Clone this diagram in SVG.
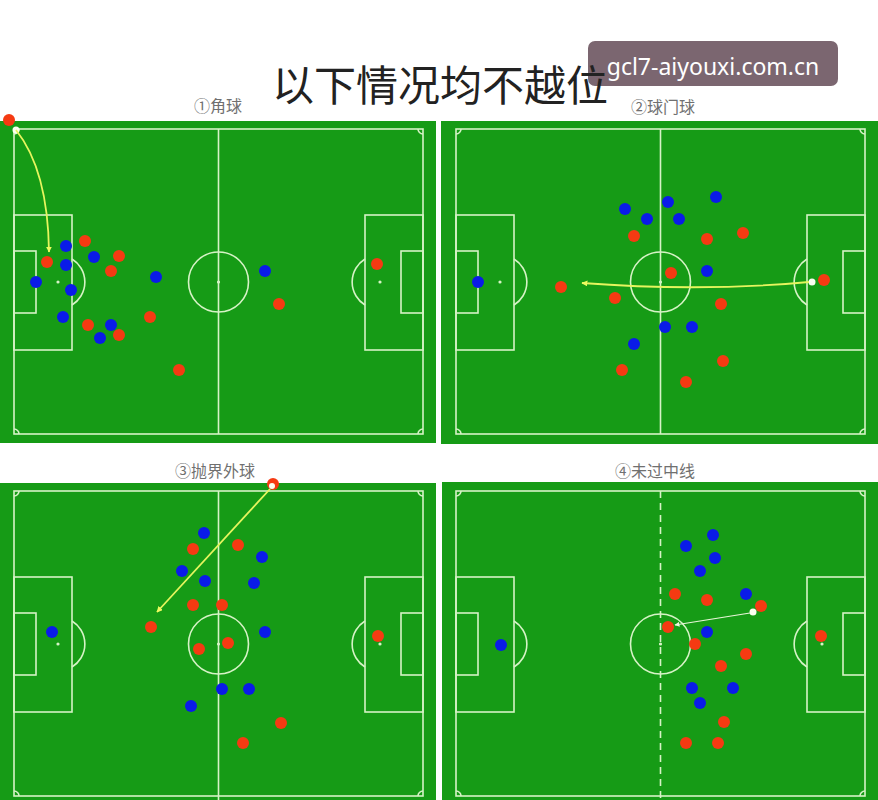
<svg xmlns="http://www.w3.org/2000/svg" xmlns:xlink="http://www.w3.org/1999/xlink" width="878" height="800" viewBox="0 0 878 800">
<style>
.field{fill:#169b16}
.ln{fill:none;stroke:#d6f3c6;stroke-width:1.6}
.r{fill:#f53a12}
.b{fill:#0a1be8}
.ball{fill:#fafff0}
.lbl{font-family:"Liberation Serif","Noto Sans CJK SC",serif;font-size:16px;fill:#707070;text-anchor:middle}
.arr{fill:none;stroke:#e6f55e;stroke-width:1.8}
.arr4{fill:none;stroke:#e8f5d8;stroke-width:1.2}
</style>
<defs>
<marker id="ah" viewBox="0 0 10 10" refX="9" refY="5" markerWidth="6" markerHeight="6" orient="auto" markerUnits="userSpaceOnUse">
<path d="M0,0 L10,5 L0,10 z" fill="#eefa60"/>
</marker>
<marker id="ah4" viewBox="0 0 10 10" refX="9" refY="5" markerWidth="5" markerHeight="5" orient="auto" markerUnits="userSpaceOnUse">
<path d="M0,0 L10,5 L0,10 z" fill="#f0f8e0"/>
</marker>
<g id="pitch" class="ln">
<rect x="0" y="0" width="409" height="305"/>
<circle cx="204.5" cy="153" r="30"/>
<circle cx="204.5" cy="153" r="0.8" fill="#d6f3c6"/>
<rect x="0" y="86" width="58" height="135"/>
<rect x="0" y="122" width="22" height="62"/>
<circle cx="44" cy="153" r="0.8" fill="#d6f3c6"/>
<path d="M58,130 A27,27 0 0 1 58,176"/>
<rect x="351" y="86" width="58" height="135"/>
<rect x="387" y="122" width="22" height="62"/>
<circle cx="366" cy="153" r="0.8" fill="#d6f3c6"/>
<path d="M351,130 A27,27 0 0 0 351,176"/>
<path d="M0,5 A5,5 0 0 0 5,0"/>
<path d="M404,0 A5,5 0 0 0 409,5"/>
<path d="M0,300 A5,5 0 0 1 5,305"/>
<path d="M404,305 A5,5 0 0 1 409,300"/>
</g>
</defs>
<rect width="878" height="800" fill="#ffffff"/>

<g id="watermark">
<rect x="588" y="41" width="250" height="45" rx="7" fill="#7b6670"/>
<text x="713" y="75" text-anchor="middle" font-family="'Noto Sans','Open Sans',sans-serif" font-size="23" fill="#ffffff">gcl7-aiyouxi.com.cn</text>
</g>
<text id="title" x="272" y="101" font-family="'Noto Sans CJK SC','Noto Sans CJK JP',sans-serif" font-size="42" fill="#222">以下情况均不越位</text>

<g id="panel1">
<rect class="field" x="0" y="121" width="436" height="322"/>
<use xlink:href="#pitch" x="14" y="129"/>
<line class="ln" x1="218.5" y1="129" x2="218.5" y2="434"/>
<text class="lbl" x="218" y="112">①角球</text>
<g id="p1-players">
<circle class="r" cx="9" cy="120" r="6"/>
<circle class="r" cx="47" cy="262" r="6"/><circle class="r" cx="85" cy="241" r="6"/><circle class="r" cx="119" cy="256" r="6"/><circle class="r" cx="111" cy="271" r="6"/><circle class="r" cx="150" cy="317" r="6"/><circle class="r" cx="88" cy="325" r="6"/><circle class="r" cx="119" cy="335" r="6"/><circle class="r" cx="179" cy="370" r="6"/><circle class="r" cx="279" cy="304" r="6"/><circle class="r" cx="377" cy="264" r="6"/>
<circle class="b" cx="66" cy="246" r="6"/><circle class="b" cx="66" cy="265" r="6"/><circle class="b" cx="94" cy="257" r="6"/><circle class="b" cx="36" cy="282" r="6"/><circle class="b" cx="71" cy="290" r="6"/><circle class="b" cx="63" cy="317" r="6"/><circle class="b" cx="111" cy="325" r="6"/><circle class="b" cx="100" cy="338" r="6"/><circle class="b" cx="156" cy="277" r="6"/><circle class="b" cx="265" cy="271" r="6"/>
<circle class="ball" cx="16" cy="130" r="3.5"/>
</g>
</g>

<g id="panel2">
<rect class="field" x="441" y="121" width="437" height="323"/>
<use xlink:href="#pitch" x="456" y="129"/>
<line class="ln" x1="660.5" y1="129" x2="660.5" y2="434"/>
<text class="lbl" x="663" y="113">②球门球</text>
<g id="p2-players">
<circle class="b" cx="625" cy="209" r="6"/><circle class="b" cx="668" cy="202" r="6"/><circle class="b" cx="716" cy="197" r="6"/><circle class="b" cx="647" cy="219" r="6"/><circle class="b" cx="679" cy="219" r="6"/><circle class="b" cx="707" cy="271" r="6"/><circle class="b" cx="665" cy="327" r="6"/><circle class="b" cx="692" cy="327" r="6"/><circle class="b" cx="634" cy="344" r="6"/><circle class="b" cx="478" cy="282" r="6"/>
<circle class="r" cx="634" cy="236" r="6"/><circle class="r" cx="707" cy="239" r="6"/><circle class="r" cx="743" cy="233" r="6"/><circle class="r" cx="671" cy="273" r="6"/><circle class="r" cx="561" cy="287" r="6"/><circle class="r" cx="615" cy="298" r="6"/><circle class="r" cx="721" cy="304" r="6"/><circle class="r" cx="723" cy="361" r="6"/><circle class="r" cx="622" cy="370" r="6"/><circle class="r" cx="686" cy="382" r="6"/><circle class="r" cx="824" cy="280" r="6"/>
<circle class="ball" cx="812" cy="282" r="3.5"/>
</g>
</g>

<g id="panel3">
<rect class="field" x="0" y="483" width="436" height="317"/>
<use xlink:href="#pitch" x="14" y="491"/>
<line class="ln" x1="218.5" y1="491" x2="218.5" y2="800"/>
<text class="lbl" x="215" y="477">③抛界外球</text>
<g id="p3-players">
<circle class="r" cx="273" cy="484" r="6"/>
<circle class="b" cx="204" cy="533" r="6"/><circle class="b" cx="262" cy="557" r="6"/><circle class="b" cx="182" cy="571" r="6"/><circle class="b" cx="205" cy="581" r="6"/><circle class="b" cx="254" cy="583" r="6"/><circle class="b" cx="265" cy="632" r="6"/><circle class="b" cx="222" cy="689" r="6"/><circle class="b" cx="249" cy="689" r="6"/><circle class="b" cx="191" cy="706" r="6"/><circle class="b" cx="52" cy="632" r="6"/>
<circle class="r" cx="193" cy="549" r="6"/><circle class="r" cx="238" cy="545" r="6"/><circle class="r" cx="193" cy="605" r="6"/><circle class="r" cx="222" cy="605" r="6"/><circle class="r" cx="151" cy="627" r="6"/><circle class="r" cx="199" cy="649" r="6"/><circle class="r" cx="228" cy="643" r="6"/><circle class="r" cx="281" cy="723" r="6"/><circle class="r" cx="243" cy="743" r="6"/><circle class="r" cx="378" cy="636" r="6"/>
<circle class="ball" cx="272" cy="486" r="3"/>
</g>
</g>

<g id="panel4">
<rect class="field" x="442" y="482" width="436" height="318"/>
<use xlink:href="#pitch" x="456" y="491"/>
<line class="ln" x1="660.5" y1="491" x2="660.5" y2="800" stroke-dasharray="7,5"/>
<text class="lbl" x="655" y="477">④未过中线</text>
<g id="p4-players">
<circle class="b" cx="713" cy="535" r="6"/><circle class="b" cx="686" cy="546" r="6"/><circle class="b" cx="715" cy="558" r="6"/><circle class="b" cx="700" cy="571" r="6"/><circle class="b" cx="746" cy="594" r="6"/><circle class="b" cx="707" cy="632" r="6"/><circle class="b" cx="692" cy="688" r="6"/><circle class="b" cx="733" cy="688" r="6"/><circle class="b" cx="700" cy="703" r="6"/><circle class="b" cx="501" cy="645" r="6"/>
<circle class="r" cx="675" cy="594" r="6"/><circle class="r" cx="707" cy="600" r="6"/><circle class="r" cx="761" cy="606" r="6"/><circle class="r" cx="668" cy="627" r="6"/><circle class="r" cx="695" cy="644" r="6"/><circle class="r" cx="746" cy="654" r="6"/><circle class="r" cx="721" cy="666" r="6"/><circle class="r" cx="724" cy="722" r="6"/><circle class="r" cx="686" cy="743" r="6"/><circle class="r" cx="718" cy="743" r="6"/><circle class="r" cx="821" cy="636" r="6"/>
<circle class="ball" cx="753" cy="612" r="3.5"/>
</g>
</g>

<g id="connectors">
<path class="arr" d="M16,130 Q48,170 49,252" marker-end="url(#ah)"/>
<path class="arr" d="M809,282 Q700,292 582,283" marker-end="url(#ah)"/>
<line class="arr" x1="270" y1="489" x2="157" y2="612" marker-end="url(#ah)"/>
<line class="arr4" x1="750" y1="613" x2="675" y2="625" marker-end="url(#ah4)"/>
</g>
</svg>
